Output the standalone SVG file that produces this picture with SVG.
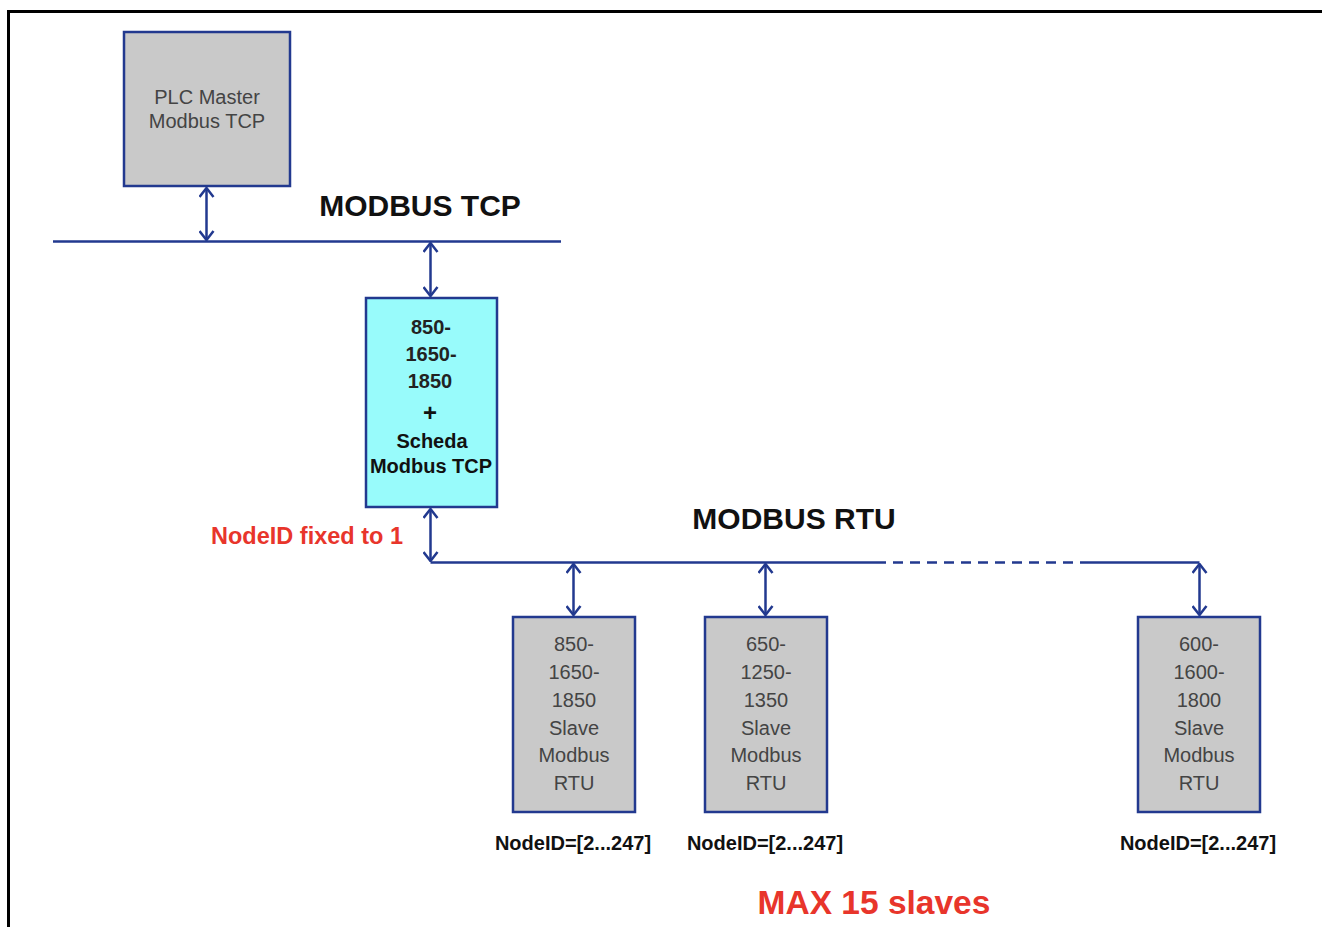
<svg xmlns="http://www.w3.org/2000/svg" width="1322" height="927" viewBox="0 0 1322 927">
<style>
.box{stroke:#22398f;stroke-width:2.5}
.gray{fill:#c9c9c9}
.cyan{fill:#98fbfb}
.bus{stroke:#22398f;stroke-width:2.5;fill:none}
.arr{stroke:#22398f;stroke-width:2.5;fill:none;marker-start:url(#ah);marker-end:url(#ah)}
.t{font-family:"Liberation Sans",Arial,sans-serif;text-anchor:middle}
.g{fill:#444;font-size:20px}
.bb{fill:#111;font-size:20px;font-weight:bold}
.hd{fill:#111;font-size:30px;font-weight:bold}
.red{fill:#e8352b;font-weight:bold}
.nid{fill:#111;font-size:20px;font-weight:bold}
</style>
<defs>
<marker id="ah" markerUnits="userSpaceOnUse" viewBox="0 0 12 16" refX="11" refY="8" markerWidth="12" markerHeight="16" orient="auto-start-reverse">
<path d="M2,1 L11,8 L2,15" fill="none" stroke="#22398f" stroke-width="2.5"/>
</marker>
</defs>
<rect x="0" y="0" width="1322" height="927" fill="#fff"/>
<rect x="8.5" y="11.5" width="1340" height="940" fill="none" stroke="#000" stroke-width="3"/>

<g id="connectors">
<line class="bus" x1="53" y1="241.5" x2="561" y2="241.5"/>
<line class="arr" x1="206.5" y1="188" x2="206.5" y2="240"/>
<line class="arr" x1="430.5" y1="243" x2="430.5" y2="296"/>
<line class="arr" x1="430.5" y1="509" x2="430.5" y2="561"/>
<polyline class="bus" points="430.5,562.5 876,562.5"/>
<line class="bus" x1="876" y1="562.5" x2="1088" y2="562.5" stroke-dasharray="10,7"/>
<polyline class="bus" points="1088,562.5 1199.5,562.5"/>
<line class="arr" x1="573.5" y1="564" x2="573.5" y2="615"/>
<line class="arr" x1="765.5" y1="564" x2="765.5" y2="615"/>
<line class="arr" x1="1199.5" y1="564" x2="1199.5" y2="615"/>
</g>

<g id="plc">
<rect class="box gray" x="124" y="32" width="166" height="154"/>
<text class="t g" x="207" y="104">PLC Master</text>
<text class="t g" x="207" y="128">Modbus TCP</text>
</g>

<g id="label-tcp">
<text class="t hd" x="420" y="216">MODBUS TCP</text>
</g>

<g id="gateway">
<rect class="box cyan" x="366" y="298" width="131" height="209"/>
<text class="t bb" x="431" y="334" style="fill:#222">850-</text>
<text class="t bb" x="431" y="361" style="fill:#222">1650-</text>
<text class="t bb" x="430" y="388" style="fill:#222">1850</text>
<text class="t bb" x="430" y="421" style="font-size:24px">+</text>
<text class="t bb" x="432" y="448">Scheda</text>
<text class="t bb" x="431" y="473">Modbus TCP</text>
</g>

<g id="label-nodeid1">
<text class="t red" x="307" y="544" style="font-size:23.5px">NodeID fixed to 1</text>
</g>

<g id="label-rtu">
<text class="t hd" x="794" y="529">MODBUS RTU</text>
</g>

<g id="slave1">
<rect class="box gray" x="513" y="617" width="122" height="195"/>
<text class="t g" x="574" y="651">850-</text>
<text class="t g" x="574" y="679">1650-</text>
<text class="t g" x="574" y="707">1850</text>
<text class="t g" x="574" y="735">Slave</text>
<text class="t g" x="574" y="762">Modbus</text>
<text class="t g" x="574" y="790">RTU</text>
<text class="t nid" x="573" y="850">NodeID=[2...247]</text>
</g>

<g id="slave2">
<rect class="box gray" x="705" y="617" width="122" height="195"/>
<text class="t g" x="766" y="651">650-</text>
<text class="t g" x="766" y="679">1250-</text>
<text class="t g" x="766" y="707">1350</text>
<text class="t g" x="766" y="735">Slave</text>
<text class="t g" x="766" y="762">Modbus</text>
<text class="t g" x="766" y="790">RTU</text>
<text class="t nid" x="765" y="850">NodeID=[2...247]</text>
</g>

<g id="slave3">
<rect class="box gray" x="1138" y="617" width="122" height="195"/>
<text class="t g" x="1199" y="651">600-</text>
<text class="t g" x="1199" y="679">1600-</text>
<text class="t g" x="1199" y="707">1800</text>
<text class="t g" x="1199" y="735">Slave</text>
<text class="t g" x="1199" y="762">Modbus</text>
<text class="t g" x="1199" y="790">RTU</text>
<text class="t nid" x="1198" y="850">NodeID=[2...247]</text>
</g>

<g id="label-max">
<text class="t red" x="874" y="914" style="font-size:33.5px">MAX 15 slaves</text>
</g>
</svg>
